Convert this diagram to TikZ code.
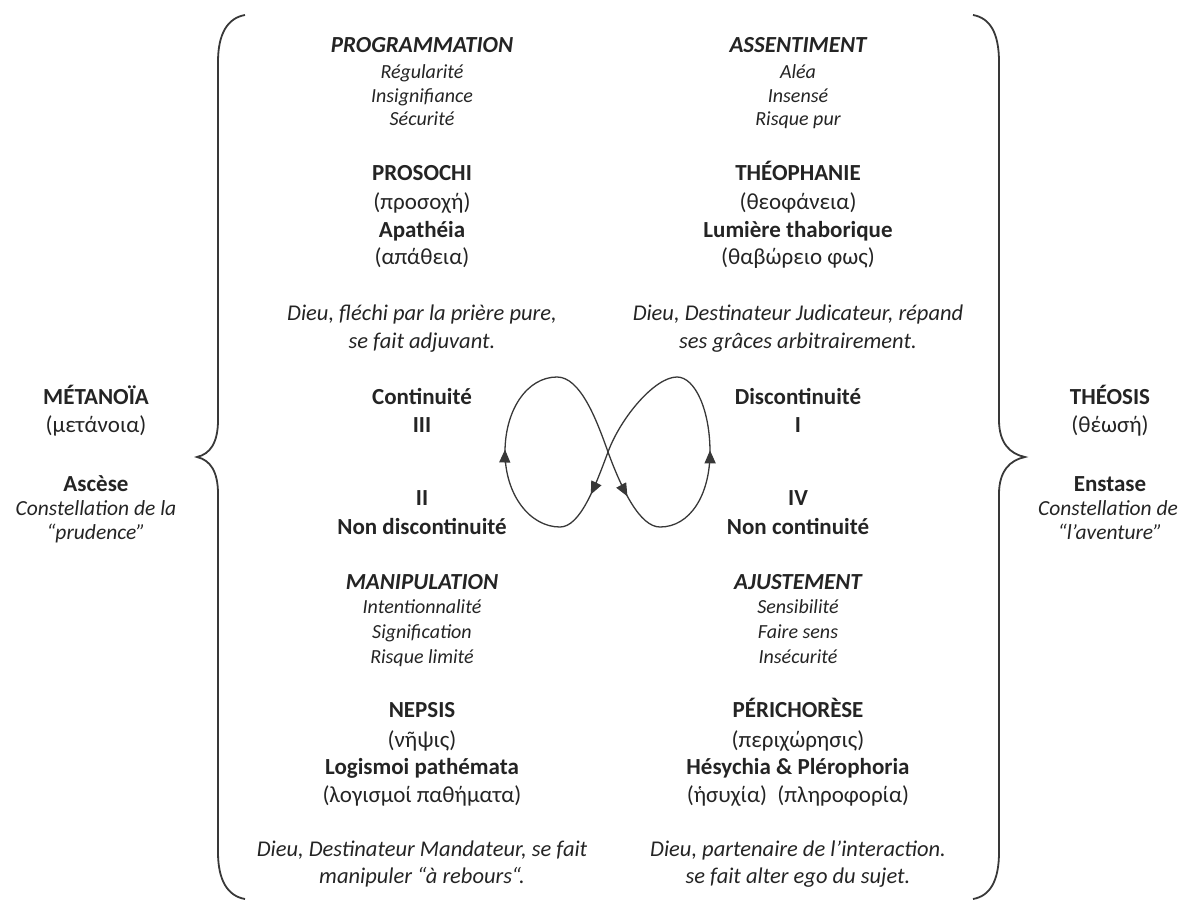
\documentclass[tikz,border=0pt]{standalone}
\usepackage{fontspec}
\setmainfont{Carlito}
\usetikzlibrary{arrows.meta,decorations.markings}

\definecolor{inkcolor}{rgb}{0.140000, 0.140000, 0.140000}
\definecolor{loopcolor}{rgb}{0.220000, 0.220000, 0.220000}

\tikzset{
  hdr/.style={anchor=base,inner sep=0pt,outer sep=0pt,color=inkcolor,font=\fontsize{23}{27}\selectfont\bfseries\itshape},
  item/.style={anchor=base,inner sep=0pt,outer sep=0pt,color=inkcolor,font=\fontsize{20}{24}\selectfont\itshape},
  term/.style={anchor=base,inner sep=0pt,outer sep=0pt,color=inkcolor,font=\fontsize{23}{27}\selectfont\bfseries},
  greek/.style={anchor=base,inner sep=0pt,outer sep=0pt,color=inkcolor,font=\fontsize{23}{27}\selectfont},
  gloss/.style={anchor=base,inner sep=0pt,outer sep=0pt,color=inkcolor,font=\fontsize{22.5}{26}\selectfont\itshape},
  sideit/.style={anchor=base,inner sep=0pt,outer sep=0pt,color=inkcolor,font=\fontsize{21.5}{25}\selectfont\itshape},
  bracecurve/.style={draw=loopcolor,line width=1.8pt},
  eightloop/.style={draw=loopcolor,line width=1.3pt,
    decoration={markings,
      mark=at position 0.135 with {\arrow{Triangle[length=13pt,width=11pt]}},
      mark=at position 0.445 with {\arrow{Triangle[length=13pt,width=11pt]}},
      mark=at position 0.635 with {\arrow{Triangle[length=13pt,width=11pt]}},
      mark=at position 0.94 with {\arrow{Triangle[length=13pt,width=11pt]}}},
    postaction={decorate}}
}

\begin{document}
\begin{tikzpicture}[x=1pt,y=-1pt]
\useasboundingbox (0,0) rectangle (1181,911);

% left column
\node[hdr] (progHead) at (422,52) {PROGRAMMATION};
\node[item] (progA) at (422,78) {Régularité};
\node[item] (progB) at (422,102) {Insignifiance};
\node[item] (progC) at (422,125) {Sécurité};
\node[term] (prosochi) at (422,180) {PROSOCHI};
\node[greek] (prosochiGr) at (422,209) {(προσοχή)};
\node[term] (apatheia) at (422,237) {Apathéia};
\node[greek] (apatheiaGr) at (422,264) {(απάθεια)};
\node[gloss] (dieuTLa) at (422,320) {Dieu, fléchi par la prière pure,};
\node[gloss] (dieuTLb) at (422,348) {se fait adjuvant.};
\node[term] (contin) at (422,404) {Continuité};
\node[term] (numIII) at (422,432) {III};
\node[term] (numII) at (422,505) {II};
\node[term] (nonDiscontin) at (422,534) {Non discontinuité};
\node[hdr] (manipHead) at (422,589) {MANIPULATION};
\node[item] (manipA) at (422,613) {Intentionnalité};
\node[item] (manipB) at (422,638) {Signification};
\node[item] (manipC) at (422,663) {Risque limité};
\node[term] (nepsis) at (422,717) {NEPSIS};
\node[greek] (nepsisGr) at (422,747) {(νῆψις)};
\node[term] (logismoi) at (422,774) {Logismoi pathémata};
\node[greek] (logismoiGr) at (422,802) {(λογισμοί παθήματα)};
\node[gloss] (dieuBLa) at (422,856) {Dieu, Destinateur Mandateur, se fait};
\node[gloss] (dieuBLb) at (422,883) {manipuler “à rebours“.};

% right column
\node[hdr] (assentHead) at (798,52) {ASSENTIMENT};
\node[item] (assentA) at (798,78) {Aléa};
\node[item] (assentB) at (798,102) {Insensé};
\node[item] (assentC) at (798,125) {Risque pur};
\node[term] (theophanie) at (798,180) {THÉOPHANIE};
\node[greek] (theophanieGr) at (798,209) {(θεοφάνεια)};
\node[term] (lumiere) at (798,237) {Lumière thaborique};
\node[greek] (lumiereGr) at (798,264) {(θαβώρειο φως)};
\node[gloss] (dieuTRa) at (798,320) {Dieu, Destinateur Judicateur, répand};
\node[gloss] (dieuTRb) at (798,348) {ses grâces arbitrairement.};
\node[term] (discontin) at (798,404) {Discontinuité};
\node[term] (numI) at (798,432) {I};
\node[term] (numIV) at (798,505) {IV};
\node[term] (nonContin) at (798,534) {Non continuité};
\node[hdr] (ajustHead) at (798,589) {AJUSTEMENT};
\node[item] (ajustA) at (798,613) {Sensibilité};
\node[item] (ajustB) at (798,638) {Faire sens};
\node[item] (ajustC) at (798,663) {Insécurité};
\node[term] (perichorese) at (798,717) {PÉRICHORÈSE};
\node[greek] (perichoreseGr) at (798,747) {(περιχώρησις)};
\node[term] (hesychia) at (798,774) {Hésychia \& Plérophoria};
\node[greek] (hesychiaGr) at (798,802) {(ἡσυχία)~~(πληροφορία)};
\node[gloss] (dieuBRa) at (798,856) {Dieu, partenaire de l’interaction.};
\node[gloss] (dieuBRb) at (798,883) {se fait alter ego du sujet.};

% side labels
\node[term] (metanoia) at (96,404) {MÉTANOÏA};
\node[greek] (metanoiaGr) at (96,432) {(μετάνοια)};
\node[term] (ascese) at (96,491) {Ascèse};
\node[sideit] (constL) at (96,515) {Constellation de la};
\node[sideit] (prudence) at (96,539) {“prudence”};
\node[term] (theosis) at (1110,404) {THÉOSIS};
\node[greek] (theosisGr) at (1110,432) {(θέωσή)};
\node[term] (enstase) at (1110,491) {Enstase};
\node[sideit] (constR) at (1108,515) {Constellation de};
\node[sideit] (aventure) at (1110,539) {“l’aventure”};

% braces
\draw[bracecurve] (245,15) .. controls (228,18) and (218,33) .. (218,62)
  -- (218,420) .. controls (218,443) and (210,454) .. (197,457)
  .. controls (210,460) and (218,471) .. (218,494)
  -- (218,852) .. controls (218,881) and (228,896) .. (245,899);
\draw[bracecurve] (973,15) .. controls (990,18) and (999,33) .. (999,62)
  -- (999,420) .. controls (999,443) and (1010,454) .. (1025,457)
  .. controls (1010,460) and (999,471) .. (999,494)
  -- (999,852) .. controls (999,881) and (990,896) .. (973,899);

% figure eight
\coordinate (lBot) at (560,527);
\coordinate (lSide) at (505,452);
\coordinate (lTop) at (557,377);
\coordinate (cross) at (608,452);
\coordinate (rBot) at (660,527);
\coordinate (rSide) at (710,452);
\coordinate (rTop) at (677,377);
\draw[eightloop] (lBot) .. controls (530,527) and (505,495) .. (lSide)
  .. controls (505,410) and (527,377) .. (lTop)
  .. controls (580,377) and (596,418) .. (cross)
  .. controls (622,490) and (640,527) .. (rBot)
  .. controls (690,527) and (710,495) .. (rSide)
  .. controls (710,410) and (695,377) .. (rTop)
  .. controls (655,377) and (621,417) .. (cross)
  .. controls (595,487) and (580,527) .. (lBot);
\end{tikzpicture}
\end{document}
